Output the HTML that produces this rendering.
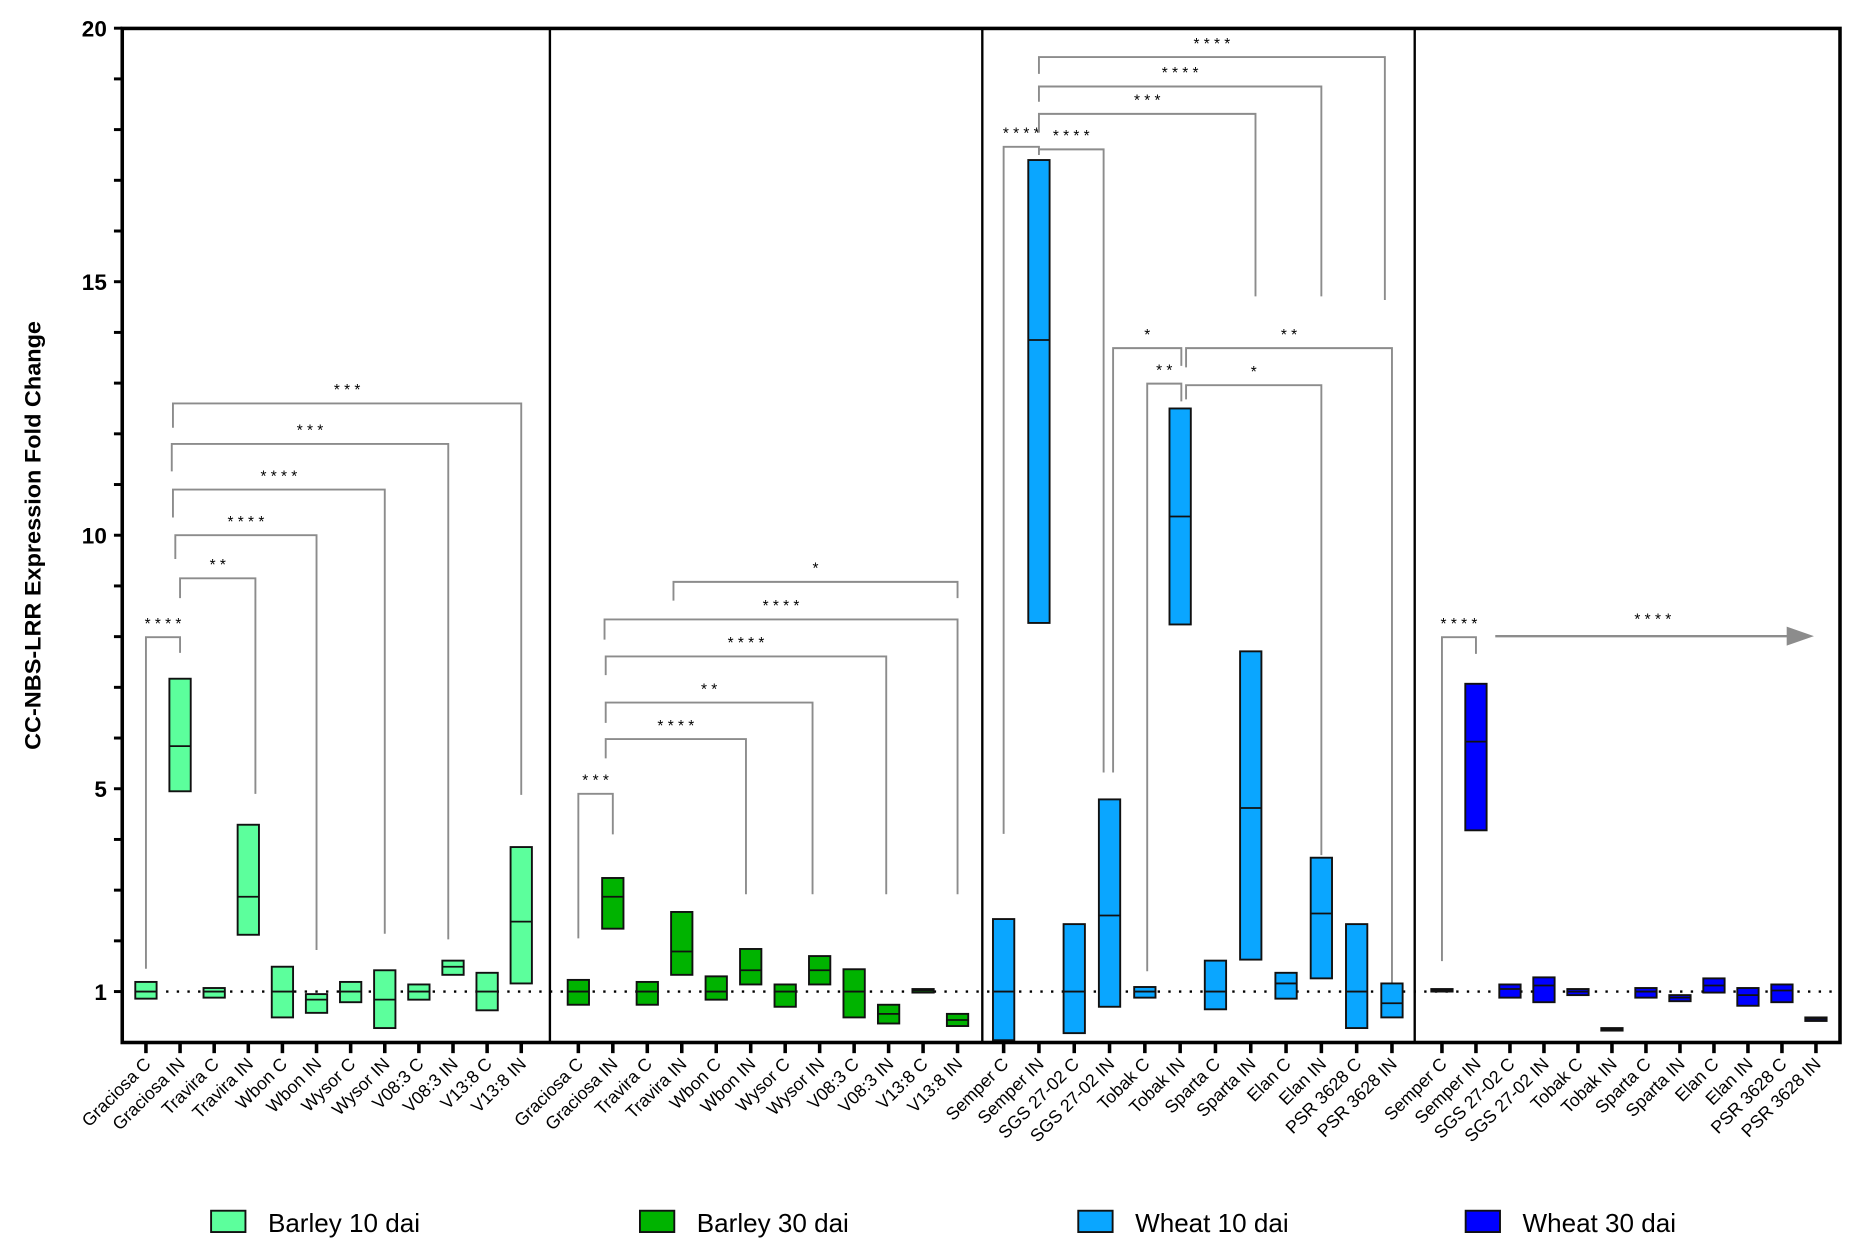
<!DOCTYPE html>
<html><head><meta charset="utf-8"><style>
html,body{margin:0;padding:0;background:#fff}
svg{display:block}
text{font-family:"Liberation Sans",sans-serif}
</style></head><body>
<svg id="chart" width="1858" height="1251" viewBox="0 0 1568 1056" xmlns="http://www.w3.org/2000/svg"></svg>
<script>
const categories1 = ["Graciosa C","Graciosa IN","Travira C","Travira IN","Wbon C","Wbon IN","Wysor C","Wysor IN","V08:3 C","V08:3 IN","V13:8 C","V13:8 IN"];
const categories2 = ["Semper C","Semper IN","SGS 27-02 C","SGS 27-02 IN","Tobak C","Tobak IN","Sparta C","Sparta IN","Elan C","Elan IN","PSR 3628 C","PSR 3628 IN"];
const seriesNames = ["Barley 10 dai","Barley 30 dai","Wheat 10 dai","Wheat 30 dai"];
const barley10Max = [1.19,7.17,1.07,4.29,1.49,0.95,1.19,1.42,1.14,1.61,1.37,3.85];
const barley10Mean = [1,5.84,1,2.87,1,0.84,1,0.84,1,1.49,1,2.38];
const barley10Min = [0.86,4.95,0.88,2.12,0.49,0.58,0.79,0.28,0.84,1.33,0.63,1.16];
const barley30Max = [1.23,3.24,1.19,2.57,1.30,1.84,1.14,1.70,1.44,0.74,1.05,0.56];
const barley30Mean = [1,2.87,1,1.79,1,1.42,1,1.42,1,0.56,1.02,0.44];
const barley30Min = [0.74,2.24,0.74,1.33,0.84,1.14,0.70,1.14,0.49,0.37,0.98,0.32];
const wheat10Max = [2.43,17.4,2.33,4.79,1.09,12.5,1.61,7.71,1.37,3.64,2.33,1.16];
const wheat10Mean = [1,13.85,1,2.50,1,10.37,1,4.62,1.16,2.54,1,0.77];
const wheat10Min = [0.04,8.27,0.18,0.70,0.88,8.24,0.65,1.63,0.86,1.26,0.28,0.49];
const wheat30Max = [1.05,7.07,1.14,1.28,1.05,0.28,1.07,0.93,1.26,1.07,1.14,0.49];
const wheat30Mean = [1.02,5.93,1.05,1.12,1,0.25,1,0.88,1.12,0.93,1.02,0.46];
const wheat30Min = [1.0,4.18,0.88,0.79,0.93,0.23,0.88,0.81,0.98,0.72,0.79,0.42];
const yTickLabels = ["20","15","10","5","1"];
const yTickValues = [20,15,10,5,1];
// brackets
const bracketPanel = [0,0,0,0,0,0, 1,1,1,1,1,1, 2,2,2,2,2,2,2,2,2, 3];
const bracketLeft  = [0,1,1,1,1,1, 0,1,1,1,1,3, 0,1,1,1,1,4,5,3,5, 0];
const bracketRight = [1,3,5,7,9,11, 1,5,7,9,11,11, 1,3,7,9,11,5,9,5,11, 1];
const bracketLevel = [7.99,9.15,10.0,10.9,11.8,12.6, 4.90,5.98,6.70,7.61,8.34,9.08, 17.66,17.61,18.31,18.85,19.43,12.99,12.96,13.69,13.69, 7.99];
const bracketLegL  = [1.45,8.76,9.53,10.35,11.26,12.12, 2.05,5.6,6.30,7.24,7.94,8.71, 4.11,17.5,17.94,18.55,19.1,1.4,12.68,5.32,13.31, 1.6];
const bracketLegR  = [7.68,4.9,1.82,2.14,2.03,4.88, 4.1,2.92,2.92,2.92,2.92,8.76, 17.57,5.32,14.71,14.71,14.64,12.64,3.69,13.34,1.16, 7.66];
const bracketStars = ["* * * *","* *","* * * *","* * * *","* * *","* * *","* * *","* * * *","* *","* * * *","* * * *","*","* * * *","* * * *","* * *","* * * *","* * * *","* *","*","*","* *","* * * *"];
// layout nudges (pixels, not data)
const nudgeL = [0,0,-4,-6,-7,-6, 0,-6,-6,-6,-7,-7, 0,0,0,0,0,2,5,3,5, 0];
const nudgeR = [0,6,0,0,-4,0, 0,-4,-6,-2,0,0, 0,-5,4,0,-6,1,0,1,0, 0];

const NS="http://www.w3.org/2000/svg";
const svg=document.getElementById('chart');
const colors=["#5cff9c","#00b300","#0aa6ff","#0000ff"];
const panelX0=[123,488,847,1217], panelStep=[28.8,29.1,29.8,28.7];
const L=103,R=1553,T=24,B=880;
function y(v){return 837-(v-1)*42.8;}
function x(p,i){return panelX0[p]+i*panelStep[p];}
function mk(tag,attrs,parent){const e=document.createElementNS(NS,tag);for(const k in attrs)e.setAttribute(k,attrs[k]);(parent||svg).appendChild(e);return e;}

const gB=mk('g',{});


for(let k=0;k<bracketPanel.length;k++){
  const p=bracketPanel[k];
  const xa=x(p,bracketLeft[k])+nudgeL[k], xb=x(p,bracketRight[k])+nudgeR[k], yl=y(bracketLevel[k]);
  const pl=mk('polyline',{points:`${xa},${y(bracketLegL[k])} ${xa},${yl} ${xb},${yl} ${xb},${y(bracketLegR[k])}`,fill:'none',stroke:'#8c8c8c','stroke-width':1.6},gB);
  
  
  const t=mk('text',{x:(xa+xb)/2,y:yl-7,'text-anchor':'middle','font-size':13},gB);
  
  
  t.textContent=bracketStars[k];
}
const ar=mk('line',{x1:1262,y1:537,x2:1512,y2:537,stroke:'#8c8c8c','stroke-width':2});


mk('polygon',{points:'1508,529 1531,537 1508,545',fill:'#8c8c8c'});
const at=mk('text',{x:1395,y:527,'text-anchor':'middle','font-size':13});


at.textContent='* * * *';

const dl=mk('line',{x1:140,y1:y(1),x2:R,y2:y(1),stroke:'#000','stroke-width':2,'stroke-dasharray':'2 7'});



const maxs=[barley10Max,barley30Max,wheat10Max,wheat30Max];
const means=[barley10Mean,barley30Mean,wheat10Mean,wheat30Mean];
const mins=[barley10Min,barley30Min,wheat10Min,wheat30Min];
for(let p=0;p<4;p++){
  const cats=p<2?categories1:categories2;
  for(let i=0;i<12;i++){
    const cx=x(p,i), y1=y(maxs[p][i]), y2=y(mins[p][i]);
    const r=mk('rect',{x:cx-9,y:y1,width:18,height:Math.max(y2-y1,1.5),fill:colors[p],stroke:'#111','stroke-width':1.6});
    
    
    const m=mk('line',{x1:cx-9,x2:cx+9,y1:y(means[p][i]),y2:y(means[p][i]),stroke:'#111','stroke-width':1.5});
    
    
    const tk=mk('line',{x1:cx,x2:cx,y1:B,y2:B+9,stroke:'#000','stroke-width':3});
    
    
    const tl=mk('text',{x:0,y:0,'text-anchor':'end','font-size':15,transform:`translate(${cx+5},${B+19}) rotate(-45)`});
    
    
    tl.textContent=cats[i];
  }
}
const fr=mk('rect',{x:L,y:T,width:R-L,height:B-T,fill:'none',stroke:'#000','stroke-width':3});


[464,829,1194].forEach(dx=>{const d=mk('line',{x1:dx,x2:dx,y1:T,y2:B,stroke:'#000','stroke-width':2});

});
for(let v=1;v<=20;v++){const t=mk('line',{x1:L-7,x2:L,y1:y(v),y2:y(v),stroke:'#000','stroke-width':2.5});

}
for(let k=0;k<yTickValues.length;k++){
  const t=mk('text',{x:90,y:y(yTickValues[k])+7,'text-anchor':'end','font-size':19,'font-weight':'bold'});
  
  
  t.textContent=yTickLabels[k];
}
const yt=mk('text',{x:0,y:0,'text-anchor':'middle','font-size':19,'font-weight':'bold',transform:'translate(34,452) rotate(-90)',textLength:362,lengthAdjust:'spacingAndGlyphs'});


yt.textContent='CC-NBS-LRR Expression Fold Change';
const lx=[178,540,910,1237];
for(let k=0;k<4;k++){
  const g=mk('g',{});
  
  
  mk('rect',{x:lx[k],y:1022,width:29,height:18,fill:colors[k],stroke:'#111','stroke-width':1.6},g);
  const t=mk('text',{x:lx[k]+48,y:1040,'font-size':22},g);
  t.textContent=seriesNames[k];
}
</script>
</body></html>
